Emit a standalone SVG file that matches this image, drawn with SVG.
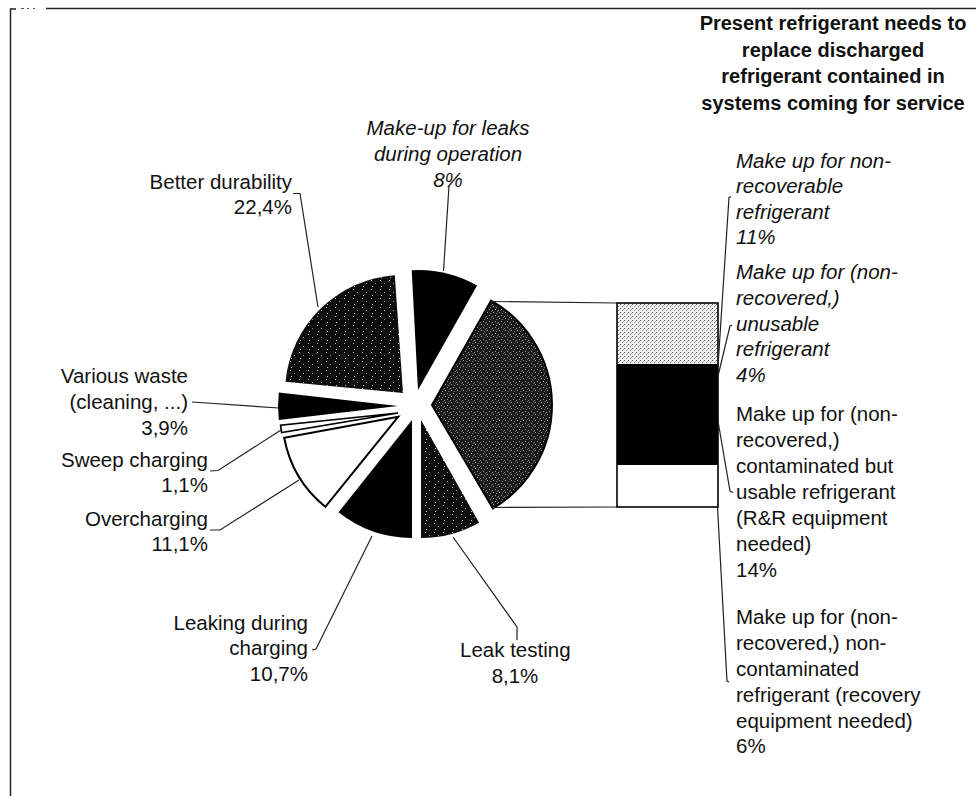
<svg xmlns="http://www.w3.org/2000/svg" width="976" height="796" viewBox="0 0 976 796">
<defs>
<pattern id="pDark" width="9" height="9" patternUnits="userSpaceOnUse">
<rect width="9" height="9" fill="#0d0d0d"/>
<rect x="2" y="1" width="1" height="1" fill="#bbb"/>
<rect x="6" y="4" width="1" height="1" fill="#999"/>
<rect x="3" y="7" width="1" height="1" fill="#ccc"/>
</pattern>
<pattern id="pMid" width="6" height="6" patternUnits="userSpaceOnUse">
<rect width="6" height="6" fill="#1a1a1a"/>
<rect x="1" y="0" width="1" height="1" fill="#aaa"/>
<rect x="4" y="1" width="1" height="1" fill="#777"/>
<rect x="3" y="3" width="1" height="1" fill="#999"/>
<rect x="0" y="4" width="1" height="1" fill="#888"/>
<rect x="5" y="5" width="1" height="1" fill="#666"/>
</pattern>
<pattern id="pLight" width="4" height="4" patternUnits="userSpaceOnUse">
<rect width="4" height="4" fill="#f2f2f2"/>
<rect x="0" y="0" width="1" height="1" fill="#555"/>
<rect x="2" y="2" width="1" height="1" fill="#777"/>
<rect x="3" y="1" width="1" height="1" fill="#aaa"/>
</pattern>
</defs>
<style>
text{font-family:"Liberation Sans",Arial,Helvetica,sans-serif;font-size:20.5px;fill:#111}
.it{font-style:italic}
.tt{font-weight:bold;font-size:20px;text-anchor:middle}
.end{text-anchor:end}
.mid{text-anchor:middle}
.ld{fill:none;stroke:#222;stroke-width:1.2}
.fr{fill:none;stroke:#222;stroke-width:1.5}
.sl{stroke:#000;stroke-width:1.5}
</style>
<rect width="976" height="796" fill="#fff"/>
<g id="frame">
<path class="fr" d="M10.5,796 V9 H16"/>
<path class="fr" d="M46,8.5 H976"/>
<path d="M21,8.5 H24 M27,8.5 H29 M33,8.5 H35" stroke="#555" stroke-width="1"/>
</g>
<g id="title">
<text class="tt" x="833" y="30">Present refrigerant needs to</text>
<text class="tt" x="833" y="56.5">replace discharged</text>
<text class="tt" x="833" y="83">refrigerant contained in</text>
<text class="tt" x="833" y="109.5">systems coming for service</text>
</g>
<g id="slice-service" class="sl">
<path d="M432,405 L491.1,300.6 A120,120 0 0 1 492.9,508.4 Z" fill="url(#pMid)" stroke-width="2"/>
</g>
<g id="slice-leak-testing">
<path d="M421,420 L479.1,522.7 A118,118 0 0 1 421,538 Z" fill="url(#pDark)"/>
</g>
<g id="slice-leaking-charging">
<path d="M412,420 L412,538 A118,118 0 0 1 338.5,512.3 Z" fill="#000"/>
</g>
<g id="slice-overcharging">
<path d="M398.3,416.7 L325.3,506.8 A116,116 0 0 1 284.2,437.8 Z" fill="#fff" stroke="#000" stroke-width="2"/>
</g>
<g id="slice-sweep">
<path d="M398,413 L281.6,432.5 A118,118 0 0 1 280.6,425.3 Z" fill="#fff" stroke="#000" stroke-width="1.6"/>
</g>
<g id="slice-various">
<path d="M398,406 L278.8,420 A120,120 0 0 1 278.8,392.4 Z" fill="#000"/>
</g>
<g id="slice-durability">
<path d="M403,393 L285.5,381.7 A118,118 0 0 1 394.8,275.3 Z" fill="url(#pDark)"/>
</g>
<g id="slice-makeup">
<path d="M418,390 L411.7,270.2 A120,120 0 0 1 477.1,285.6 Z" fill="#000"/>
</g>
<g id="bar">
<rect x="617" y="303" width="101" height="61" fill="url(#pLight)"/>
<rect x="617" y="364" width="101" height="101" fill="#000"/>
<rect x="617" y="465" width="101" height="42" fill="#fff"/>
<rect x="617" y="303" width="101" height="204" fill="none" stroke="#000" stroke-width="1.6"/>
</g>
<g id="connectors">
<path class="ld" d="M491,301.5 L617,303"/>
<path class="ld" d="M493,507.5 L617,507"/>
<path class="ld" d="M293,193.5 L300,193.5 L318,307"/>
<path class="ld" d="M449,186 L443.5,271"/>
<path class="ld" d="M192,402 L279,408"/>
<path class="ld" d="M210,471 L218,470.5 L281,430"/>
<path class="ld" d="M210,530 L220,530 L299,480"/>
<path class="ld" d="M372,536 L316,649 L312,650"/>
<path class="ld" d="M453,537 L517,627 L517,640"/>
<path class="ld" d="M731,196.5 L729,197.5 L718,366"/>
<path class="ld" d="M732,325 L730,326 L718,376"/>
<path class="ld" d="M718,421 L730,491 L733,492.5"/>
<path class="ld" d="M717.5,507 L727,681 L729,682"/>
</g>
<g id="label-makeup">
<text class="it mid" x="448" y="135">Make-up for leaks</text>
<text class="it mid" x="448" y="161">during operation</text>
<text class="it mid" x="448" y="187">8%</text>
</g>
<g id="label-durability">
<text class="end" x="292" y="189">Better durability</text>
<text class="end" x="292" y="214">22,4%</text>
</g>
<g id="label-various">
<text class="end" x="188" y="383">Various waste</text>
<text class="end" x="188" y="409">(cleaning, ...)</text>
<text class="end" x="188" y="435">3,9%</text>
</g>
<g id="label-sweep">
<text class="end" x="208" y="466.5">Sweep charging</text>
<text class="end" x="208" y="492">1,1%</text>
</g>
<g id="label-overcharging">
<text class="end" x="208" y="526">Overcharging</text>
<text class="end" x="208" y="551">11,1%</text>
</g>
<g id="label-leaking">
<text class="end" x="308" y="629.5">Leaking during</text>
<text class="end" x="308" y="655">charging</text>
<text class="end" x="308" y="680.5">10,7%</text>
</g>
<g id="label-leak-testing">
<text x="460" y="657">Leak testing</text>
<text class="mid" x="515" y="683">8,1%</text>
</g>
<g id="label-nonrecoverable">
<text class="it" x="736" y="167.5">Make up for non-</text>
<text class="it" x="736" y="193">recoverable</text>
<text class="it" x="736" y="218.5">refrigerant</text>
<text class="it" x="736" y="244">11%</text>
</g>
<g id="label-unusable">
<text class="it" x="736" y="279">Make up for (non-</text>
<text class="it" x="736" y="305">recovered,)</text>
<text class="it" x="736" y="330.5">unusable</text>
<text class="it" x="736" y="356">refrigerant</text>
<text class="it" x="736" y="382">4%</text>
</g>
<g id="label-contaminated">
<text x="736" y="421">Make up for (non-</text>
<text x="736" y="447">recovered,)</text>
<text x="736" y="473">contaminated but</text>
<text x="736" y="499">usable refrigerant</text>
<text x="736" y="525">(R&amp;R equipment</text>
<text x="736" y="551">needed)</text>
<text x="736" y="577">14%</text>
</g>
<g id="label-noncontaminated">
<text x="736" y="624">Make up for (non-</text>
<text x="736" y="650">recovered,) non-</text>
<text x="736" y="676">contaminated</text>
<text x="736" y="702">refrigerant (recovery</text>
<text x="736" y="727.5">equipment needed)</text>
<text x="736" y="753">6%</text>
</g>
</svg>
